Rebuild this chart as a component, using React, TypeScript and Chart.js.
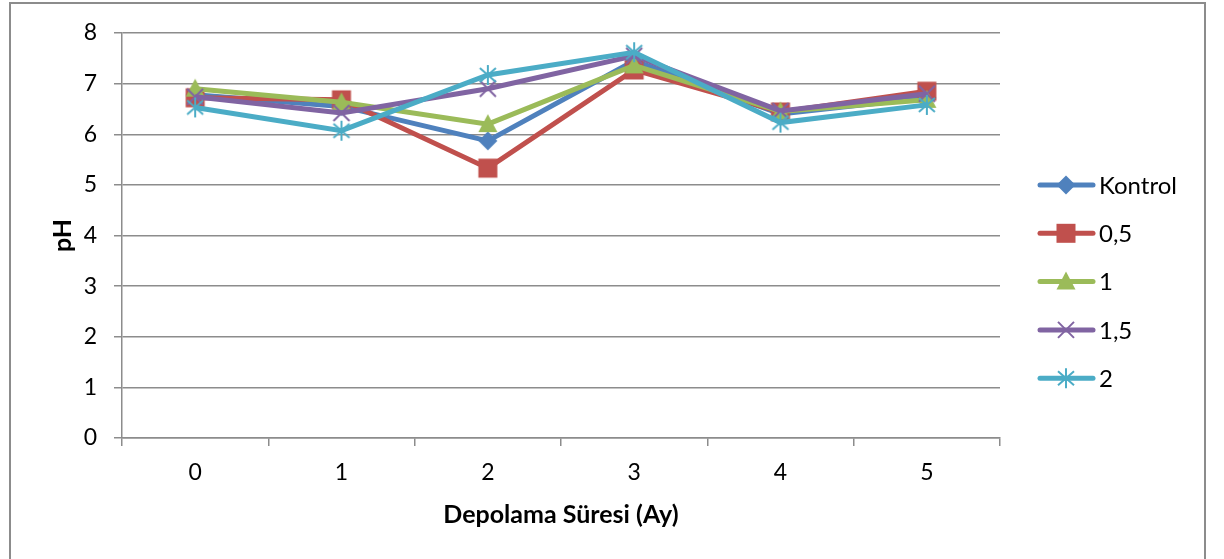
import React, { useEffect, useRef } from "react";
import { Chart, registerables } from "chart.js";

Chart.register(...registerables);

// Storage time in months
const months = ["0", "1", "2", "3", "4", "5"];

// pH values per treatment
const kontrol = [6.78, 6.55, 5.87, 7.45, 6.4, 6.72];
const dose05 = [6.72, 6.68, 5.33, 7.27, 6.44, 6.85];
const dose1 = [6.9, 6.63, 6.2, 7.36, 6.45, 6.68];
const dose15 = [6.74, 6.42, 6.9, 7.55, 6.46, 6.8];
const dose2 = [6.53, 6.07, 7.17, 7.62, 6.23, 6.58];

const seriesNames = ["Kontrol", "0,5", "1", "1,5", "2"];
const seriesColors = ["#4F81BD", "#C0504D", "#9BBB59", "#8064A2", "#4BACC6"];
const seriesMarkers = ["diamond", "square", "triangle", "x", "star"];

const FONT = "Lato, 'Open Sans', sans-serif";

function drawMarker(
  ctx: CanvasRenderingContext2D,
  kind: string,
  x: number,
  y: number,
  color: string
) {
  ctx.save();
  ctx.fillStyle = color;
  ctx.strokeStyle = color;
  ctx.lineCap = "butt";
  if (kind === "diamond") {
    ctx.beginPath();
    ctx.moveTo(x, y - 9.5);
    ctx.lineTo(x + 9.5, y);
    ctx.lineTo(x, y + 9.5);
    ctx.lineTo(x - 9.5, y);
    ctx.closePath();
    ctx.fill();
  } else if (kind === "square") {
    ctx.fillRect(x - 9.5, y - 9.5, 19, 19);
  } else if (kind === "triangle") {
    ctx.beginPath();
    ctx.moveTo(x, y - 10);
    ctx.lineTo(x + 9.5, y + 8);
    ctx.lineTo(x - 9.5, y + 8);
    ctx.closePath();
    ctx.fill();
  } else if (kind === "x") {
    ctx.lineWidth = 2;
    ctx.beginPath();
    ctx.moveTo(x - 8, y - 8);
    ctx.lineTo(x + 8, y + 8);
    ctx.moveTo(x + 8, y - 8);
    ctx.lineTo(x - 8, y + 8);
    ctx.stroke();
  } else if (kind === "star") {
    ctx.lineWidth = 2;
    ctx.beginPath();
    ctx.moveTo(x - 8, y - 7);
    ctx.lineTo(x + 8, y + 7);
    ctx.moveTo(x + 8, y - 7);
    ctx.lineTo(x - 8, y + 7);
    ctx.moveTo(x, y - 10);
    ctx.lineTo(x, y + 10);
    ctx.stroke();
  }
  ctx.restore();
}

function markerImage(kind: string, color: string): HTMLCanvasElement {
  const c = document.createElement("canvas");
  c.width = 30;
  c.height = 30;
  const ctx = c.getContext("2d")!;
  drawMarker(ctx, kind, 15, 15, color);
  return c;
}

const framePlugin = {
  id: "frameAndLegend",
  afterDraw(chart: any) {
    const ctx: CanvasRenderingContext2D = chart.ctx;
    ctx.save();
    // outer frame
    ctx.strokeStyle = "#8c8c8c";
    ctx.lineWidth = 2;
    ctx.strokeRect(10, 3, 1195, 600);

    // legend: line sample with marker and label
    const startY = 185;
    const step = 48.3;
    chart.data.datasets.forEach((ds: any, i: number) => {
      const y = startY + i * step;
      ctx.strokeStyle = seriesColors[i];
      ctx.lineWidth = 5;
      ctx.lineCap = "round";
      ctx.beginPath();
      ctx.moveTo(1040, y);
      ctx.lineTo(1093, y);
      ctx.stroke();
      drawMarker(ctx, seriesMarkers[i], 1066, y, seriesColors[i]);
      ctx.fillStyle = "#000";
      ctx.font = `24px ${FONT}`;
      ctx.textAlign = "left";
      ctx.textBaseline = "middle";
      ctx.fillText(ds.label, 1099, y + 1);
    });
    ctx.restore();
  },
};

export default function App() {
  const canvasRef = useRef<HTMLCanvasElement | null>(null);

  useEffect(() => {
    document.body.style.margin = "0";
    const canvas = canvasRef.current!;
    const values = [kontrol, dose05, dose1, dose15, dose2];
    const chart = new Chart(canvas, {
      type: "line",
      data: {
        labels: months,
        datasets: values.map((v, i) => ({
          label: seriesNames[i],
          data: v,
          borderColor: seriesColors[i],
          backgroundColor: seriesColors[i],
          borderWidth: 5,
          pointStyle: markerImage(seriesMarkers[i], seriesColors[i]),
          pointRadius: 10,
          tension: 0,
          fill: false,
          order: values.length - i,
        })),
      },
      options: {
        responsive: false,
        animation: false,
        devicePixelRatio: 1,
        layout: { padding: { left: 48, right: 224, top: 33, bottom: 29 } },
        plugins: {
          legend: { display: false },
          tooltip: { enabled: false },
        },
        scales: {
          x: {
            offset: true,
            grid: {
              display: true,
              drawOnChartArea: false,
              drawTicks: true,
              tickLength: 8,
              offset: true,
              color: "#8c8c8c",
              lineWidth: 1.5,
            },
            border: { display: true, color: "#8c8c8c", width: 1.5 },
            ticks: {
              color: "#000",
              font: { family: FONT, size: 23 },
              padding: 13,
              maxRotation: 0,
            },
            title: {
              display: true,
              text: "Depolama Süresi (Ay)",
              color: "#000",
              font: { family: FONT, size: 25, weight: "bold" },
              padding: 0,
            },
            afterFit(scale: any) {
              scale.height = 92;
            },
          },
          y: {
            min: 0,
            max: 8,
            ticks: {
              stepSize: 1,
              color: "#000",
              font: { family: FONT, size: 23 },
              padding: 17,
            },
            grid: {
              color: "#8c8c8c",
              lineWidth: 1.5,
              tickLength: 8,
              drawTicks: true,
            },
            border: { display: true, color: "#8c8c8c", width: 1.5 },
            title: {
              display: true,
              text: "pH",
              color: "#000",
              font: { family: FONT, size: 25, weight: "bold" },
              padding: 0,
            },
            afterFit(scale: any) {
              scale.width = 74;
            },
          },
        },
      },
      plugins: [framePlugin],
    });
    return () => chart.destroy();
  }, []);

  return (
    <div style={{ position: "relative", width: 1224, height: 559, background: "#fff" }}>
      <canvas ref={canvasRef} width={1224} height={559} />
    </div>
  );
}
